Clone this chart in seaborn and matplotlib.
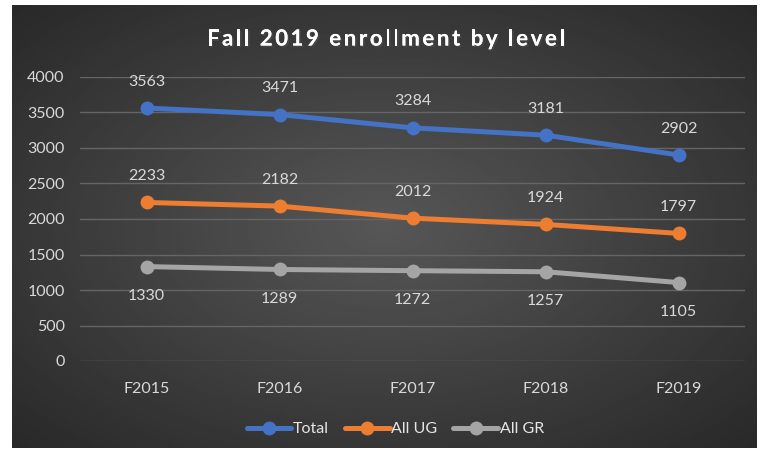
import numpy as np
import pandas as pd
import seaborn as sns
import matplotlib.pyplot as plt
import matplotlib.patheffects as pe

# data
years = ['F2015', 'F2016', 'F2017', 'F2018', 'F2019']
total = [3563, 3471, 3284, 3181, 2902]
all_ug = [2233, 2182, 2012, 1924, 1797]
all_gr = [1330, 1289, 1272, 1257, 1105]
series_names = ['Total', 'All UG', 'All GR']
colors = ['#4472C4', '#ED7D31', '#A5A5A5']
title = 'Fall 2019 enrollment by level'

df = pd.DataFrame({'year': years * 3,
                   'value': total + all_ug + all_gr,
                   'series': np.repeat(series_names, len(years))})

sns.set_theme(style='dark')
plt.rcParams['font.family'] = ['Lato', 'DejaVu Sans']

W, H = 772, 455
fig = plt.figure(figsize=(W / 100, H / 100), dpi=100)
fig.patch.set_facecolor('white')

# dark radial background of the chart area
bg = fig.add_axes([12 / W, 1 - 448 / H, (757 - 12) / W, (448 - 5) / H])
yy, xx = np.mgrid[-1:1:200j, -1:1:300j]
r = np.sqrt(xx ** 2 + yy ** 2) / np.sqrt(2)
bg.imshow(0.34 - 0.18 * r, cmap='gray', vmin=0, vmax=1, aspect='auto', extent=[0, 1, 0, 1])
bg.set_axis_off()

ax = fig.add_axes([80 / W, 1 - 361 / H, (745 - 80) / W, (361 - 77) / H])
ax.set_facecolor('none')

sns.lineplot(data=df, x='year', y='value', hue='series', palette=colors,
             marker='o', markersize=10, markeredgewidth=0, linewidth=3.6,
             sort=False, ax=ax)

ax.set_xlim(-0.5, len(years) - 0.5)
ax.set_ylim(0, 4000)
ax.set_yticks(range(0, 4001, 500))
ax.grid(axis='y', color='#656565', linewidth=1)
ax.grid(axis='x', visible=False)
for s in ax.spines.values():
    s.set_visible(False)
ax.tick_params(colors='#D9D9D9', labelsize=11.5, length=0)
ax.tick_params(axis='x', pad=15)
ax.tick_params(axis='y', pad=11)
ax.set_xlabel('')
ax.set_ylabel('')

# data labels
for vals, offset in [(total, 14), (all_ug, 14), (all_gr, -26)]:
    for i, v in enumerate(vals):
        ax.annotate(str(v), (i, v), xytext=(0, offset), textcoords='offset points',
                    ha='center', va='bottom', color='#D9D9D9', fontsize=11.5)

handles, labels = ax.get_legend_handles_labels()
leg = ax.legend(handles, labels, loc='center', bbox_to_anchor=(0.474, -0.24),
                ncol=3, frameon=False, fontsize=11.5, handlelength=2.8,
                handletextpad=0.1, columnspacing=1.0)
for t in leg.get_texts():
    t.set_color('#E6E6E6')

# letter-spaced title
renderer = fig.canvas.get_renderer()
tkw = dict(fontsize=16, fontweight='bold')
def text_w(s):
    t = fig.text(0, 0, s + 'x', **tkw)
    w = t.get_window_extent(renderer).width
    t.remove()
    return w
wx = text_w('')
prefix = [text_w(title[:i]) - wx for i in range(len(title) + 1)]
target_w = 358
spacing = (target_w - prefix[-1]) / (len(title) - 1)
x0 = W / 2 - target_w / 2
for i, ch in enumerate(title):
    if ch == ' ':
        continue
    fig.text((x0 + prefix[i] + i * spacing) / W, 1 - 39 / H, ch, ha='left', va='center',
             color='white', **tkw,
             path_effects=[pe.withSimplePatchShadow(offset=(1.2, -1.2), alpha=0.6), pe.Normal()])

fig.savefig('out.png', dpi=100)
